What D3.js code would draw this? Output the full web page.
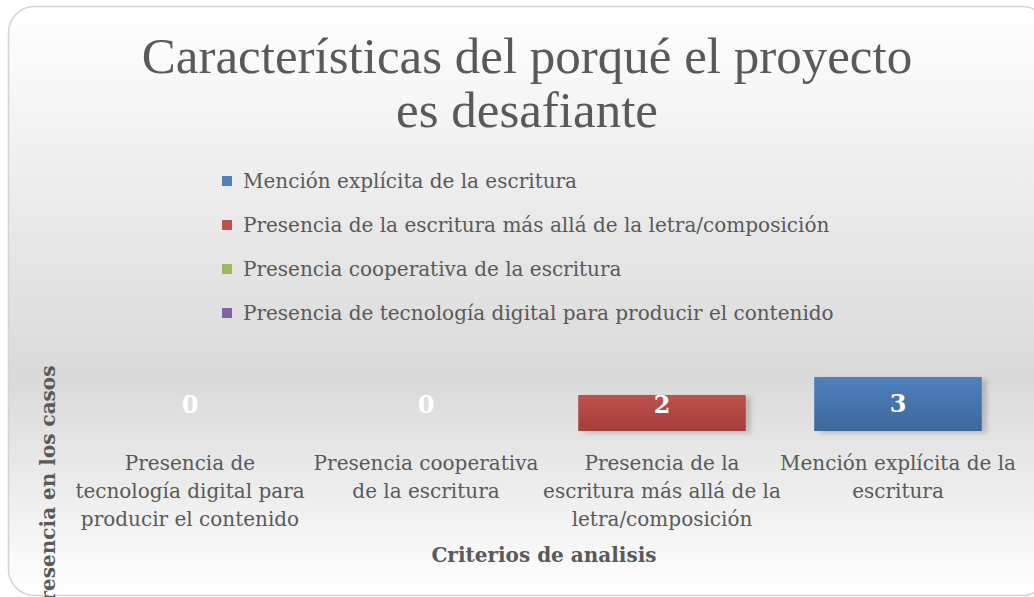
<!DOCTYPE html>
<html>
<head>
<meta charset="utf-8">
<script src="https://cdn.jsdelivr.net/npm/d3@7"></script>
<style>
  body { margin: 0; background: #fff; }
  svg text { font-family: "DejaVu Serif", "Liberation Serif", serif; }
</style>
</head>
<body>
<div id="chart"></div>
<script>
// categories along the x axis (left to right)
var categories = [
  ["Presencia de", "tecnología digital para", "producir el contenido"],
  ["Presencia cooperativa", "de la escritura"],
  ["Presencia de la", "escritura más allá de la", "letra/composición"],
  ["Mención explícita de la", "escritura"]
];
var values = [0, 0, 2, 3];
var seriesColors = ["#8064a2", "#9bbb59", "#c0504d", "#4f81bd"];
var seriesDark = ["#6a4f8b", "#819d45", "#a53d3a", "#3b679c"];

// legend (shown in reverse order like the original)
var legendLabels = [
  "Mención explícita de la escritura",
  "Presencia de la escritura más allá de la letra/composición",
  "Presencia cooperativa de la escritura",
  "Presencia de tecnología digital para  producir el contenido"
];
var legendColors = ["#4f81bd", "#c0504d", "#9bbb59", "#8064a2"];

var titleLines = ["Características del porqué el proyecto", "es desafiante"];
var xTitle = "Criterios de analisis";
var yTitle = "Presencia en los casos";

var width = 1034, height = 597;

var svg = d3.select("#chart").append("svg")
    .attr("width", width)
    .attr("height", height);

var defs = svg.append("defs");

var bg = defs.append("linearGradient")
    .attr("id", "bg").attr("x1", 0).attr("y1", 0).attr("x2", 0).attr("y2", 1);
bg.append("stop").attr("offset", "0%").attr("stop-color", "#ffffff");
bg.append("stop").attr("offset", "63%").attr("stop-color", "#d9d9d9");
bg.append("stop").attr("offset", "100%").attr("stop-color", "#ffffff");

values.forEach(function(v, i) {
    var g = defs.append("linearGradient")
        .attr("id", "bar" + i).attr("x1", 0).attr("y1", 0).attr("x2", 0).attr("y2", 1);
    g.append("stop").attr("offset", "0%").attr("stop-color", seriesColors[i]);
    g.append("stop").attr("offset", "100%").attr("stop-color", seriesDark[i]);
});

var shadow = defs.append("filter").attr("id", "shadow")
    .attr("x", "-10%").attr("y", "-10%").attr("width", "130%").attr("height", "150%");
shadow.append("feGaussianBlur").attr("in", "SourceAlpha").attr("stdDeviation", 2.5);
shadow.append("feOffset").attr("dx", 5).attr("dy", 2).attr("result", "blur");
shadow.append("feComponentTransfer").append("feFuncA").attr("type", "linear").attr("slope", 0.18);
var merge = shadow.append("feMerge");
merge.append("feMergeNode");
merge.append("feMergeNode").attr("in", "SourceGraphic");

// chart area with rounded border
svg.append("rect")
    .attr("x", 8.5).attr("y", 6.5)
    .attr("width", 1040).attr("height", 589)
    .attr("rx", 26).attr("ry", 26)
    .attr("fill", "url(#bg)")
    .attr("stroke", "#d4d4d4")
    .attr("stroke-width", 1.5);

// title
svg.append("g").selectAll("text")
    .data(titleLines)
    .enter().append("text")
    .attr("x", 527)
    .attr("y", function(d, i) { return 73 + i * 54; })
    .attr("text-anchor", "middle")
    .attr("fill", "#595959")
    .style("font-family", "'Liberation Serif', serif")
    .style("font-size", "51px")
    .text(function(d) { return d; });

// legend
var legend = svg.append("g").selectAll("g")
    .data(legendLabels)
    .enter().append("g")
    .attr("transform", function(d, i) { return "translate(222," + (181 + i * 44) + ")"; });

legend.append("rect")
    .attr("x", 0).attr("y", -5)
    .attr("width", 10).attr("height", 10)
    .attr("fill", function(d, i) { return legendColors[i]; });

legend.append("text")
    .attr("x", 21).attr("dy", "0.35em")
    .attr("fill", "#595959")
    .style("font-size", "20px")
    .text(function(d) { return d; });

// scales
var x = d3.scaleBand()
    .domain(d3.range(categories.length))
    .range([72, 1016])
    .paddingInner(0.29)
    .paddingOuter(0.145);

var y = d3.scaleLinear()
    .domain([0, 3])
    .range([431, 377]);

var bars = values.map(function(v, i) { return {i: i, v: v}; });

// bars
svg.append("g").selectAll("rect")
    .data(bars.filter(function(d) { return d.v > 0; }))
    .enter().append("rect")
    .attr("x", function(d) { return x(d.i); })
    .attr("y", function(d) { return y(d.v); })
    .attr("width", x.bandwidth())
    .attr("height", function(d) { return y(0) - y(d.v); })
    .attr("fill", function(d) { return "url(#bar" + d.i + ")"; })
    .attr("filter", "url(#shadow)");

// data labels
svg.append("g").selectAll("text")
    .data(bars)
    .enter().append("text")
    .attr("x", function(d) { return x(d.i) + x.bandwidth() / 2; })
    .attr("y", function(d) { return Math.min((y(0) + y(d.v)) / 2, y(0) - 26); })
    .attr("dy", "0.35em")
    .attr("text-anchor", "middle")
    .attr("fill", "#ffffff")
    .style("font-size", "24px")
    .style("font-weight", "bold")
    .text(function(d) { return d.v; });

// category labels
var cat = svg.append("g").selectAll("text")
    .data(categories)
    .enter().append("text")
    .attr("x", function(d, i) { return x(i) + x.bandwidth() / 2; })
    .attr("y", 470)
    .attr("text-anchor", "middle")
    .attr("fill", "#595959")
    .style("font-size", "20px");

cat.selectAll("tspan")
    .data(function(d) { return d; })
    .enter().append("tspan")
    .attr("x", function() { return d3.select(this.parentNode).attr("x"); })
    .attr("dy", function(d, i) { return i === 0 ? 0 : 28; })
    .text(function(d) { return d; });

// axis titles
svg.append("text")
    .attr("x", 544).attr("y", 562)
    .attr("text-anchor", "middle")
    .attr("fill", "#595959")
    .style("font-size", "20px")
    .style("font-weight", "bold")
    .text(xTitle);

// y title: the original is cut off at the bottom edge as well
svg.append("text")
    .attr("transform", "translate(55,491) rotate(-90)")
    .attr("text-anchor", "middle")
    .attr("fill", "#595959")
    .style("font-size", "20px")
    .style("font-weight", "bold")
    .text(yTitle);
</script>
</body>
</html>
